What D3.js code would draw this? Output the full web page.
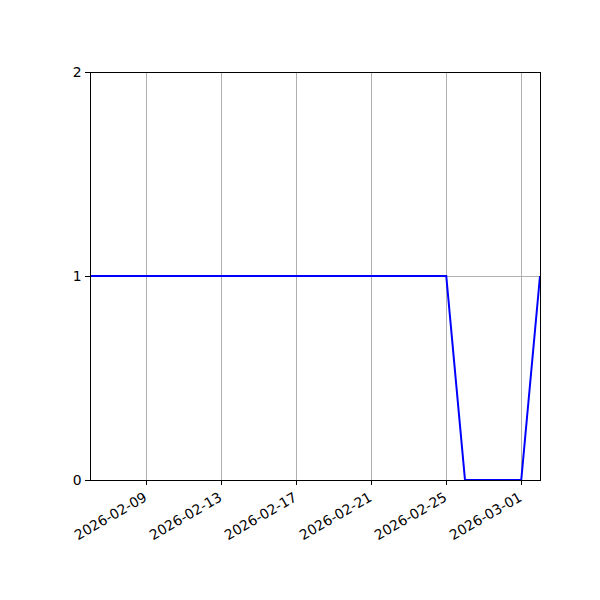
<!DOCTYPE html>
<html lang="en">
<head>
<meta charset="UTF-8">
<script src="https://d3js.org/d3.v7.min.js"></script>
<title>Daily status</title>
<style>
  body { margin: 0; background: #fff; }
  svg text { font-family: "DejaVu Sans", sans-serif; font-size: 13.9px; fill: #000; }
</style>
</head>
<body>
<div id="chart"></div>
<script>
    // Daily values, one per day from the first date
    const startDate = "2026-02-06";
    const values = [1, 1, 1, 1, 1, 1, 1, 1, 1, 1, 1, 1, 1, 1, 1, 1, 1, 1, 1, 1, 0, 0, 0, 0, 1];
    const yTicks = [0, 1, 2];
    const xTickLabels = ["2026-02-09", "2026-02-13", "2026-02-17", "2026-02-21", "2026-02-25", "2026-03-01"];

    const parse = d3.utcParse("%Y-%m-%d");
    const t0 = parse(startDate);
    const data = values.map((v, i) => ({ date: d3.utcDay.offset(t0, i), value: v }));

    const margin = { top: 72, right: 60, bottom: 120, left: 90 };
    const width = 600 - margin.left - margin.right;
    const height = 600 - margin.top - margin.bottom;

    const svg = d3.select("#chart")
        .append("svg")
        .attr("width", 600)
        .attr("height", 600);

    const g = svg.append("g")
        .attr("transform", "translate(" + margin.left + "," + margin.top + ")");

    const x = d3.scaleUtc()
        .domain(d3.extent(data, d => d.date))
        .range([0, width]);

    const y = d3.scaleLinear()
        .domain([0, 2])
        .range([height, 0]);

    const xTickDates = xTickLabels.map(parse);

    // Grid
    g.append("g")
        .selectAll("line")
        .data(xTickDates)
        .join("line")
        .attr("x1", d => x(d)).attr("x2", d => x(d))
        .attr("y1", 0).attr("y2", height)
        .attr("stroke", "#b0b0b0").attr("stroke-width", 1)
        .attr("shape-rendering", "crispEdges");

    g.append("g")
        .selectAll("line")
        .data(yTicks)
        .join("line")
        .attr("x1", 0).attr("x2", width)
        .attr("y1", d => y(d)).attr("y2", d => y(d))
        .attr("stroke", "#b0b0b0").attr("stroke-width", 1)
        .attr("shape-rendering", "crispEdges");

    // Line
    const line = d3.line()
        .x(d => x(d.date))
        .y(d => y(d.value));

    g.append("path")
        .datum(data)
        .attr("fill", "none")
        .attr("stroke", "#0000ff")
        .attr("stroke-width", 2)
        .attr("d", line);

    // Axes
    const xAxis = d3.axisBottom(x)
        .tickValues(xTickDates)
        .tickFormat(d3.utcFormat("%Y-%m-%d"))
        .tickSize(4.9)
        .tickPadding(3.5);

    const yAxis = d3.axisLeft(y)
        .tickValues(yTicks)
        .tickFormat(d3.format("d"))
        .tickSize(4.9)
        .tickPadding(3.5);

    const gx = g.append("g")
        .attr("transform", "translate(0," + height + ")")
        .call(xAxis);
    gx.select(".domain").remove();
    gx.selectAll(".tick line").attr("stroke", "#000").attr("stroke-width", 1)
        .attr("shape-rendering", "crispEdges");
    gx.selectAll(".tick text")
        .attr("text-anchor", "end")
        .attr("dy", null)
        .attr("dominant-baseline", "hanging")
        .attr("x", 0)
        .attr("y", 0)
        .attr("transform", "translate(-4,11) rotate(-30)");

    const gy = g.append("g").call(yAxis);
    gy.select(".domain").remove();
    gy.selectAll(".tick line").attr("stroke", "#000").attr("stroke-width", 1)
        .attr("shape-rendering", "crispEdges");

    // Frame
    g.append("rect")
        .attr("x", 0).attr("y", 0)
        .attr("width", width).attr("height", height)
        .attr("fill", "none")
        .attr("stroke", "#000")
        .attr("stroke-width", 1)
        .attr("shape-rendering", "crispEdges");
</script>
</body>
</html>
